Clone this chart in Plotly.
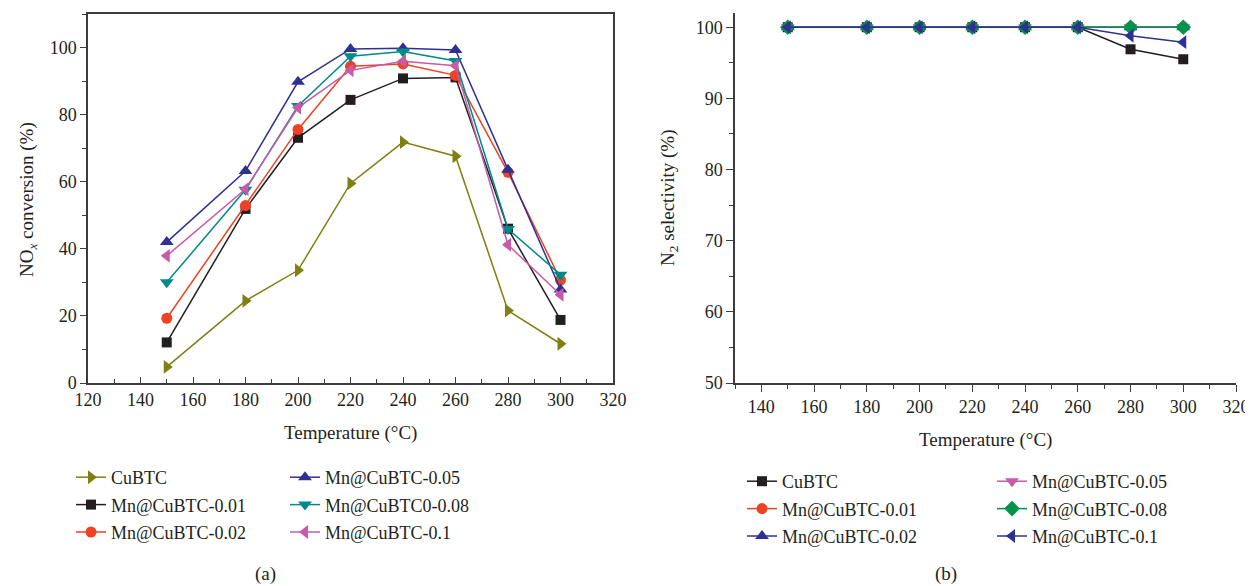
import plotly.graph_objects as go

# page is drawn with an 8px body margin, so the figure is offset by 8px
OFF = 8
PW, PH = 1253, 586
FW, FH = PW - OFF, PH - OFF
FONT = "Liberation Serif"
TXT = "#231f20"
AX = "#3c3c3c"

temps = [150, 180, 200, 220, 240, 260, 280, 300]

# (a) NOx conversion (%)
a_names = ["CuBTC", "Mn@CuBTC-0.01", "Mn@CuBTC-0.02", "Mn@CuBTC-0.05", "Mn@CuBTC0-0.08", "Mn@CuBTC-0.1"]
a_cubtc = [4.8, 24.5, 33.6, 59.5, 71.8, 67.6, 21.6, 11.7]
a_mn001 = [12.1, 51.9, 73.1, 84.4, 90.8, 91.1, 46.0, 18.8]
a_mn002 = [19.3, 52.9, 75.6, 94.4, 95.1, 91.7, 62.8, 30.7]
a_mn005 = [42.0, 63.2, 89.8, 99.6, 99.8, 99.3, 63.6, 27.9]
a_mn008 = [30.0, 57.6, 82.6, 97.4, 98.8, 96.0, 45.9, 32.3]
a_mn010 = [37.9, 57.8, 82.1, 93.2, 95.9, 94.6, 41.2, 26.3]
a_values = [a_cubtc, a_mn001, a_mn002, a_mn005, a_mn008, a_mn010]
a_colors = ["#7f7f12", "#231f20", "#ef4123", "#2e3192", "#00898b", "#c65ba9"]
a_symbols = ["triangle-right", "square", "circle", "triangle-up", "triangle-down", "triangle-left"]

# (b) N2 selectivity (%)
b_names = ["CuBTC", "Mn@CuBTC-0.01", "Mn@CuBTC-0.02", "Mn@CuBTC-0.05", "Mn@CuBTC-0.08", "Mn@CuBTC-0.1"]
b_cubtc = [100, 100, 100, 100, 100, 100, 96.9, 95.5]
b_mn001 = [100, 100, 100, 100, 100, 100, 100, 100]
b_mn002 = [100, 100, 100, 100, 100, 100, 100, 100]
b_mn005 = [100, 100, 100, 100, 100, 100, 100, 100]
b_mn008 = [100, 100, 100, 100, 100, 100, 100, 100]
b_mn010 = [100, 100, 100, 100, 100, 100, 98.8, 97.9]
b_values = [b_cubtc, b_mn001, b_mn002, b_mn005, b_mn008, b_mn010]
b_colors = ["#231f20", "#ef4123", "#2e3192", "#c65ba9", "#00934b", "#2e3192"]
b_symbols = ["square", "circle", "triangle-up", "triangle-down", "diamond", "triangle-left"]

SIZES = {"square": 10, "circle": 11, "diamond": 12}


def px_x(p):
    return (p - OFF) / FW


def px_y(p):
    return 1 - (p - OFF) / FH


fig = go.Figure()

legend_ids_a = ["legend", "legend", "legend", "legend2", "legend2", "legend2"]
legend_ids_b = ["legend3", "legend3", "legend3", "legend4", "legend4", "legend4"]

for i, (n, v) in enumerate(zip(a_names, a_values)):
    fig.add_trace(go.Scatter(
        x=temps, y=v, name=n, mode="lines+markers",
        line=dict(color=a_colors[i], width=1.5),
        marker=dict(symbol=a_symbols[i], size=SIZES.get(a_symbols[i], 12), color=a_colors[i]),
        xaxis="x", yaxis="y", legend=legend_ids_a[i], legendgroup="a%d" % i,
    ))

for i, (n, v) in enumerate(zip(b_names, b_values)):
    fig.add_trace(go.Scatter(
        x=temps, y=v, name=n, mode="lines+markers",
        line=dict(color=b_colors[i], width=1.5),
        marker=dict(symbol=b_symbols[i], size=SIZES.get(b_symbols[i], 12), color=b_colors[i]),
        xaxis="x2", yaxis="y2", legend=legend_ids_b[i], legendgroup="b%d" % i,
    ))

tickfont = dict(family=FONT, size=18, color=TXT)
common_ax = dict(showgrid=False, zeroline=False, tickfont=tickfont, automargin=False,
                 showline=True, linecolor=AX, linewidth=1.5, tickwidth=1.2, tickcolor=AX)

fig.update_layout(
    template="none",
    width=FW, height=FH,
    margin=dict(l=0, r=0, t=0, b=0, pad=0, autoexpand=False),
    paper_bgcolor="white", plot_bgcolor="white",
    font=dict(family=FONT, size=18, color=TXT),
    xaxis=dict(
        domain=[px_x(88), px_x(613)], range=[120, 320], tick0=120, dtick=20,
        ticks="inside", ticklen=6,
        minor=dict(dtick=10, tick0=120, ticks="inside", ticklen=4, tickcolor=AX, tickwidth=1.2),
        mirror=True, anchor="y", **common_ax,
    ),
    yaxis=dict(
        domain=[px_y(383), px_y(14)], range=[0, 110], tick0=0, dtick=20,
        ticks="outside", ticklen=6,
        minor=dict(dtick=10, tick0=0, ticks="outside", ticklen=4, tickcolor=AX, tickwidth=1.2),
        mirror=True, anchor="x", **common_ax,
    ),
    xaxis2=dict(
        domain=[px_x(735), px_x(1236)], range=[130, 320], tick0=140, dtick=20,
        ticks="outside", ticklen=7,
        minor=dict(dtick=10, tick0=130, ticks="outside", ticklen=4, tickcolor=AX, tickwidth=1.2),
        mirror=False, anchor="y2", **common_ax,
    ),
    yaxis2=dict(
        domain=[px_y(383), px_y(13)], range=[50, 102], tick0=50, dtick=10,
        ticks="outside", ticklen=7,
        minor=dict(dtick=5, tick0=50, ticks="outside", ticklen=4, tickcolor=AX, tickwidth=1.2),
        mirror=False, anchor="x2", **common_ax,
    ),
    showlegend=True,
    hovermode="closest",
)

leg_common = dict(font=dict(family=FONT, size=18, color=TXT), bgcolor="rgba(0,0,0,0)",
                  borderwidth=0, xanchor="left", yanchor="top", orientation="v",
                  tracegroupgap=1, traceorder="grouped", itemwidth=30)
fig.update_layout(
    legend=dict(x=px_x(71), y=px_y(459), **leg_common),
    legend2=dict(x=px_x(285), y=px_y(459), **leg_common),
    legend3=dict(x=px_x(742), y=px_y(463), **leg_common),
    legend4=dict(x=px_x(992), y=px_y(463), **leg_common),
)

tfont = dict(family=FONT, size=19, color=TXT)
centered = dict(xref="paper", yref="paper", showarrow=False, xanchor="center", yanchor="middle", font=tfont)
ann = [
    dict(text="Temperature (°C)", x=px_x(350), y=px_y(433), **centered),
    dict(text="Temperature (°C)", x=px_x(985), y=px_y(440), **centered),
    dict(text="NO<sub><i>x</i></sub> conversion (%)", x=px_x(28), y=px_y(200), textangle=-90, **centered),
    dict(text="N<sub>2</sub> selectivity (%)", x=px_x(669), y=px_y(198), textangle=-90, **centered),
    dict(text="(a)", x=px_x(265), y=px_y(574), **centered),
    dict(text="(b)", x=px_x(946), y=px_y(574), **centered),
]
fig.update_layout(annotations=ann)

fig.write_html("out.html")
